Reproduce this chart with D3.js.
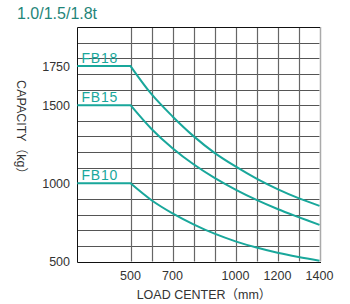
<!DOCTYPE html>
<html><head><meta charset="utf-8">
<script src="https://cdn.jsdelivr.net/npm/d3@7/dist/d3.min.js"></script>
<style>body{margin:0;background:#fff}svg{display:block}</style>
</head><body>
<svg id="c" width="350" height="304"></svg>
<script>
const loadCenters = [500, 600, 700, 800, 900, 1000, 1100, 1200, 1300, 1400];
const fb18 = [1750, 1570, 1428, 1302, 1195, 1108, 1030, 963, 905, 856];
const fb15 = [1500, 1348, 1225, 1122, 1035, 960, 894, 836, 784, 734];
const fb10 = [1000, 892, 808, 738, 678, 629, 589, 556, 529, 505];
const seriesNames = ["FB18", "FB15", "FB10"];
const xTickValues = [500, 700, 1000, 1200, 1400];
const yTickValues = [500, 1000, 1500, 1750];
const xMin = 245;

const svg = d3.select("#c");
const x = d3.scaleLinear().domain([xMin, 1400]).range([77, 319.5]);
const y = d3.scaleLinear().domain([500, 2000]).range([261.5, 27]);
const teal = "#19a79b";
const font = "'Liberation Sans', Arial, 'Noto Sans CJK JP', sans-serif";

// grid
const g = svg.append("g");
g.selectAll("line.h").data(d3.range(600, 2000, 100)).join("line")
  .attr("x1", x(xMin)).attr("x2", x(1400))
  .attr("y1", d => Math.round(y(d)) + 0.5).attr("y2", d => Math.round(y(d)) + 0.5)
  .attr("stroke", "#555").attr("stroke-width", 1);
g.selectAll("line.v").data(d3.range(500, 1400, 100)).join("line")
  .attr("y1", y(2000)).attr("y2", y(500))
  .attr("x1", d => Math.round(x(d)) + 0.5).attr("x2", d => Math.round(x(d)) + 0.5)
  .attr("stroke", "#666").attr("stroke-width", 1.2);
// borders
svg.append("line").attr("x1", Math.round(x(1400)) + 0.5).attr("x2", Math.round(x(1400)) + 0.5)
  .attr("y1", y(2000)).attr("y2", y(500)).attr("stroke", "#aaa").attr("stroke-width", 1.5);
svg.append("path")
  .attr("d", `M${Math.round(x(1400))},${Math.round(y(2000))+0.5}H${Math.round(x(xMin))+0.5}V${Math.round(y(500))+0.5}H${Math.round(x(1400))+1}`)
  .attr("fill", "none").attr("stroke", "#111").attr("stroke-width", 1);

// curves
const flat = d3.line().x(d => x(d[0])).y(d => y(d[1]));
const line = d3.line().x(d => x(d[0])).y(d => y(d[1])).curve(d3.curveCatmullRom.alpha(0.5));
[fb18, fb15, fb10].forEach((vals, i) => {
  const pts = loadCenters.map((c, j) => [c, vals[j]]);
  const path = flat([[xMin + 1, vals[0]], [loadCenters[0], vals[0]]]) + line(pts).replace(/^M/, "L");
  svg.append("path").attr("d", path).attr("fill", "none")
    .attr("stroke", teal).attr("stroke-width", 2).attr("stroke-linejoin", "miter");
  svg.append("text").attr("x", 81.5).attr("y", y(vals[0]) - 3)
    .attr("font-family", font).attr("font-size", 14).attr("letter-spacing", 0.8)
    .attr("fill", teal).text(seriesNames[i]);
});

// ticks
svg.selectAll("text.yt").data(yTickValues).join("text")
  .attr("x", 70).attr("y", d => y(d) + 4.5).attr("text-anchor", "end")
  .attr("font-family", font).attr("font-size", 12.5).attr("fill", "#333").text(d => d);
svg.selectAll("text.xt").data(xTickValues).join("text")
  .attr("x", d => x(d)).attr("y", 280).attr("text-anchor", "middle")
  .attr("font-family", font).attr("font-size", 12.5).attr("fill", "#333").text(d => d);

// titles
svg.append("text").attr("x", 204).attr("y", 299).attr("text-anchor", "middle")
  .attr("font-family", font).attr("font-size", 12.5).attr("fill", "#333").text("LOAD CENTER（mm）");
svg.append("text").attr("transform", "translate(17,130) rotate(90)").attr("text-anchor", "middle")
  .attr("font-family", font).attr("font-size", 12.5).attr("fill", "#333").text("CAPACITY（kg）");
svg.append("text").attr("x", 17).attr("y", 19)
  .attr("font-family", font).attr("font-size", 16).attr("fill", "#1f8579").text("1.0/1.5/1.8t");
</script>
</body></html>
